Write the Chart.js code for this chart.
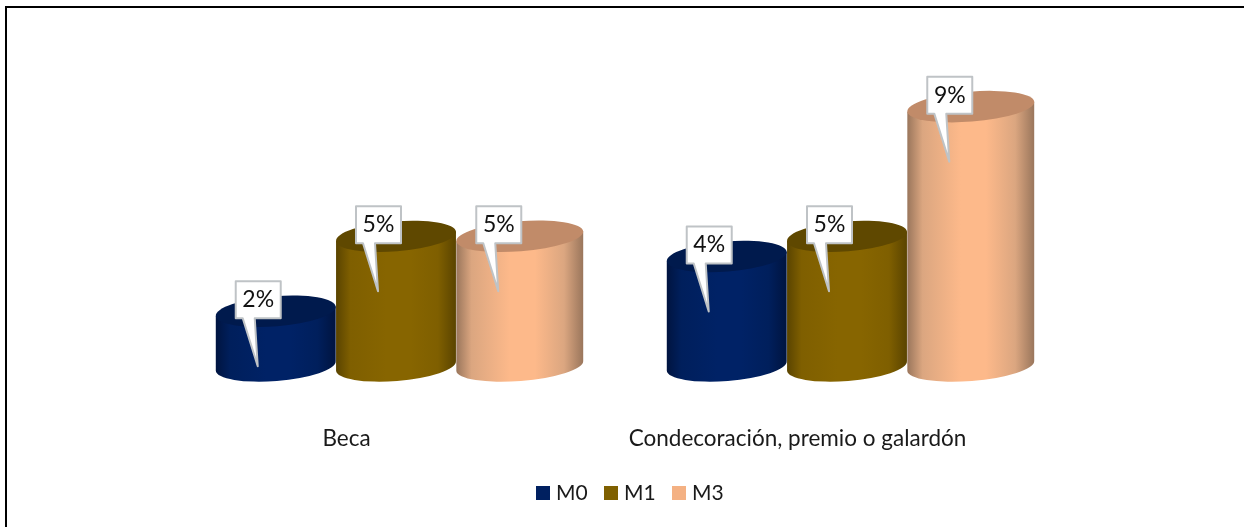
<!DOCTYPE html>
<html>
<head>
<meta charset="utf-8">
<script src="https://cdn.jsdelivr.net/npm/chart.js@4"></script>
<style>
  html, body { margin: 0; padding: 0; background: #fff; }
  #wrap { width: 1244px; height: 527px; position: relative; }
</style>
</head>
<body>
<div id="wrap"><canvas id="myChart"></canvas></div>
<script>
const categories = ["Beca", "Condecoración, premio o galardón"];
const seriesNames = ["M0", "M1", "M3"];
const m0Values = [1.9, 3.8];
const m1Values = [4.5, 4.5];
const m3Values = [4.5, 9];
const seriesColors = ["#002060", "#7f6000", "#f4b183"];

// edge, mid and centre of the side shading, then the darker lid
const cylinderShades = [
  { edge: "#001440", mid: "#001f5c", centre: "#002266", top: "#001a4d" },
  { edge: "#5a4400", mid: "#7f5f00", centre: "#876500", top: "#5f4800" },
  { edge: "#9a765c", mid: "#dba680", centre: "#fdb98a", top: "#c18b69" }
];

const tilt = -4.5 * Math.PI / 180;
const lidRadiusY = 15;

const cylinders = {
  id: "cylinders",
  beforeDatasetDraw(chart, args) {
    const ctx = chart.ctx;
    const shade = cylinderShades[args.index];
    const extra = args.index === 2 ? 7 : 0; // last one is a bit wider
    args.meta.data.forEach(bar => {
      const x = bar.x + extra / 2;
      const rx = bar.width / 2 + extra / 2;
      const dx = rx * Math.cos(tilt);
      const dy = rx * Math.sin(tilt);

      const grad = ctx.createLinearGradient(x - dx, 0, x + dx, 0);
      grad.addColorStop(0, shade.edge);
      grad.addColorStop(0.12, shade.mid);
      grad.addColorStop(0.42, shade.centre);
      grad.addColorStop(0.62, shade.centre);
      grad.addColorStop(0.85, shade.mid);
      grad.addColorStop(1, shade.edge);

      ctx.save();
      ctx.beginPath();
      ctx.ellipse(x, bar.base, rx, lidRadiusY, tilt, 0, Math.PI);
      ctx.lineTo(x - dx, bar.y - dy);
      ctx.lineTo(x + dx, bar.y + dy);
      ctx.closePath();
      ctx.fillStyle = grad;
      ctx.fill();

      ctx.beginPath();
      ctx.ellipse(x, bar.y, rx, lidRadiusY, tilt, 0, Math.PI * 2);
      ctx.fillStyle = shade.top;
      ctx.fill();
      ctx.restore();
    });
    return false; // the plain rectangle is not wanted
  }
};

const callouts = {
  id: "callouts",
  afterDatasetsDraw(chart) {
    const ctx = chart.ctx;
    chart.data.datasets.forEach((ds, i) => {
      chart.getDatasetMeta(i).data.forEach((bar, j) => {
        const left = bar.x - 40;
        const top = bar.y - 30;
        const w = 45, h = 37;
        ctx.save();
        ctx.beginPath();
        ctx.moveTo(left, top);
        ctx.lineTo(left + w, top);
        ctx.lineTo(left + w, top + h);
        ctx.lineTo(left + 19, top + h);
        ctx.lineTo(left + 22, top + 85);
        ctx.lineTo(left + 7, top + h);
        ctx.lineTo(left, top + h);
        ctx.closePath();
        ctx.fillStyle = "#ffffff";
        ctx.fill();
        ctx.strokeStyle = "#bfc3c6";
        ctx.lineWidth = 2;
        ctx.lineJoin = "round"; // a miter shoots far past the sharp tip
        ctx.stroke();
        ctx.fillStyle = "#111111";
        ctx.font = "23px Lato";
        ctx.textAlign = "center";
        ctx.textBaseline = "middle";
        ctx.fillText(Math.round(ds.data[j]) + "%", left + w / 2, top + h / 2);
        ctx.restore();
      });
    });
  }
};

// legend drawn by hand, the built-in one keeps too wide a gap after the box
const bottomLegend = {
  id: "bottomLegend",
  afterDraw(chart) {
    const ctx = chart.ctx;
    ctx.save();
    ctx.font = "21px Lato";
    ctx.textBaseline = "middle";
    let x = 536;
    seriesNames.forEach((name, i) => {
      ctx.fillStyle = seriesColors[i];
      ctx.fillRect(x, 486, 14, 14);
      ctx.fillStyle = "#1a1a1a";
      ctx.fillText(name, x + 20, 493);
      x += 68;
    });
    ctx.restore();
  }
};

// only the top and left edges of the frame show in the picture
const frame = {
  id: "frame",
  afterDraw(chart) {
    const ctx = chart.ctx;
    ctx.save();
    ctx.strokeStyle = "#000000";
    ctx.lineWidth = 2;
    ctx.beginPath();
    ctx.moveTo(6, 527);
    ctx.lineTo(6, 7);
    ctx.lineTo(1244, 7);
    ctx.stroke();
    ctx.restore();
  }
};

new Chart(document.getElementById("myChart"), {
  type: "bar",
  data: {
    labels: categories,
    datasets: [
      { label: seriesNames[0], data: m0Values, backgroundColor: seriesColors[0] },
      { label: seriesNames[1], data: m1Values, backgroundColor: seriesColors[1] },
      { label: seriesNames[2], data: m3Values, backgroundColor: seriesColors[2] }
    ]
  },
  plugins: [cylinders, callouts, bottomLegend, frame],
  options: {
    responsive: true,
    maintainAspectRatio: false,
    animation: false,
    layout: { padding: { left: 170.5, right: 171.5, top: 49, bottom: 61 } },
    datasets: { bar: { categoryPercentage: 0.8, barPercentage: 1 } },
    plugins: {
      tooltip: { enabled: false },
      legend: { display: false }
    },
    scales: {
      x: {
        grid: { display: false },
        border: { display: false },
        afterFit(scale) { scale.height = 100; },
        ticks: {
          labelOffset: -49.5,
          padding: 51,
          autoSkip: false,
          maxRotation: 0,
          color: "#1a1a1a",
          font: { family: "Lato", size: 22.5 }
        }
      },
      y: {
        display: false,
        min: 0,
        max: 11
      }
    }
  }
});
</script>
</body>
</html>
